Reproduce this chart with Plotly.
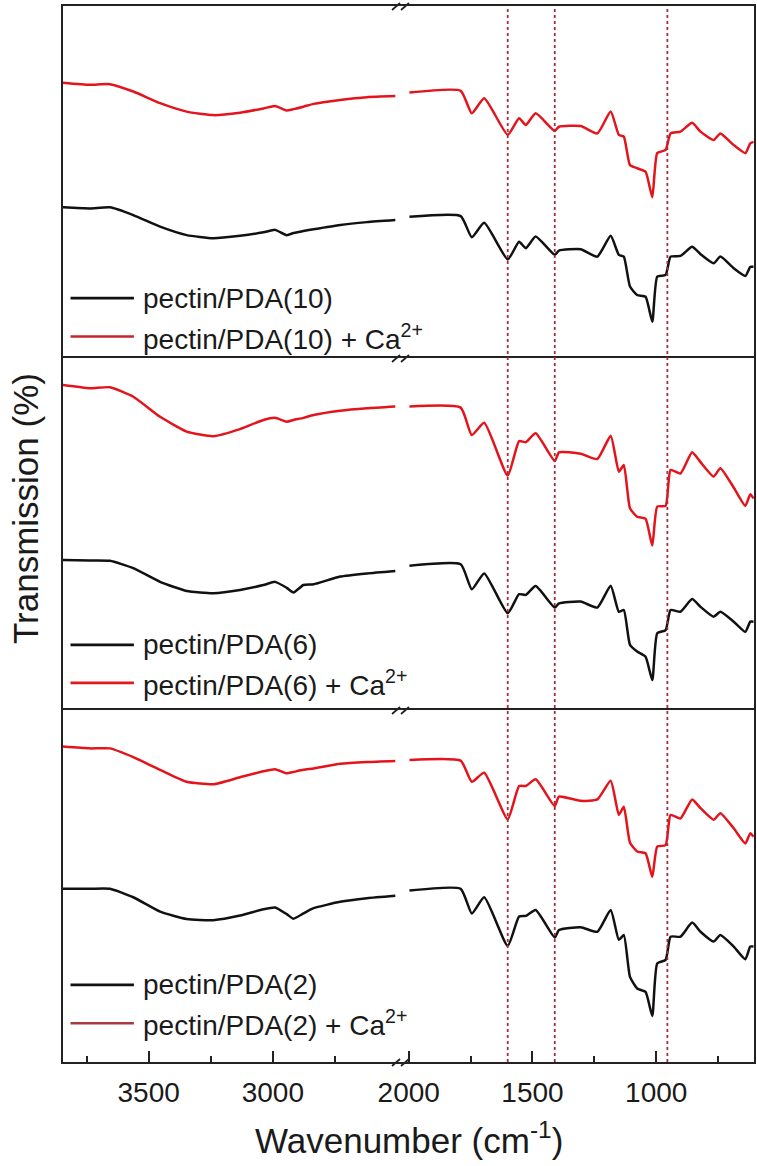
"""
FTIR spectra of pectin/PDA films with and without Ca2+, drawn on a broken wavenumber axis.
"""

import plotly.graph_objects as go
from plotly.subplots import make_subplots

# wavenumber grids (cm-1) for the two axis segments
WN_LEFT = [3845, 3737, 3656, 3562, 3454, 3347, 3240, 3132, 3038, 2991, 2944, 2917, 2877, 2836, 2729, 2621, 2507]
WN_RIGHT = [1997, 1790, 1745, 1695, 1600, 1554, 1527, 1487, 1410, 1393, 1305, 1238, 1184, 1151, 1131,
            1106, 1077, 1043, 1016, 996, 962, 942, 902, 855, 821, 768, 741, 687, 640, 620, 607]

# transmission (offset, arbitrary %) read per panel
PDA10_CA_LEFT = [78.2, 77.6, 77.8, 75.7, 72.4, 70.0, 69.0, 69.7, 70.9, 71.6, 70.3, 70.7, 71.4, 72.2, 73.3, 74.1, 74.4]
PDA10_CA_RIGHT = [75.4, 75.9, 69.5, 73.8, 63.4, 68.1, 66.2, 69.5, 64.5, 65.7, 65.9, 63.8, 70.0, 63.4, 62.9,
                  54.8, 53.9, 52.9, 45.7, 58.2, 59.1, 63.8, 64.3, 66.8, 64.3, 61.9, 63.8, 60.5, 58.2, 61.0, 61.4]
PDA10_LEFT = [42.8, 42.5, 42.8, 40.6, 37.3, 34.9, 34.0, 34.7, 35.7, 36.4, 34.9, 35.5, 36.1, 36.6, 37.8, 38.6, 39.2]
PDA10_RIGHT = [40.1, 40.3, 34.3, 38.4, 28.0, 33.0, 31.2, 34.5, 29.3, 30.5, 30.9, 28.8, 34.7, 29.3, 28.8,
               20.3, 17.9, 17.4, 10.3, 23.1, 23.6, 28.8, 29.0, 31.6, 29.5, 26.9, 28.8, 25.5, 23.3, 25.9, 25.9]

PDA6_CA_LEFT = [92.3, 91.4, 91.7, 89.0, 83.3, 79.1, 77.8, 79.8, 82.4, 83.0, 81.9, 82.4, 83.0, 83.8, 85.0, 85.7, 86.2]
PDA6_CA_RIGHT = [86.2, 85.9, 78.1, 81.6, 66.6, 76.4, 76.1, 78.6, 70.7, 73.2, 72.8, 71.3, 77.9, 67.7, 69.6,
                 57.3, 54.9, 54.3, 46.7, 57.8, 58.0, 68.2, 67.2, 73.2, 70.4, 66.3, 68.7, 63.2, 58.0, 61.3, 60.1]
PDA6_LEFT = [42.6, 42.5, 42.4, 40.3, 36.4, 33.8, 33.2, 34.1, 35.5, 36.4, 34.7, 33.4, 35.5, 35.7, 37.9, 38.8, 39.5]
PDA6_RIGHT = [41.0, 41.4, 34.3, 38.8, 27.5, 32.9, 32.7, 35.2, 29.1, 30.3, 30.8, 29.1, 35.3, 27.9, 28.4,
              18.5, 16.6, 15.1, 8.5, 21.8, 22.7, 28.4, 27.9, 31.5, 29.3, 26.5, 27.9, 25.1, 22.2, 25.1, 25.1]

PDA2_CA_LEFT = [89.6, 89.1, 89.1, 86.6, 83.0, 79.6, 78.9, 80.9, 82.6, 83.2, 82.0, 82.4, 83.0, 83.4, 84.7, 85.2, 85.5]
PDA2_CA_RIGHT = [85.8, 85.6, 79.6, 82.2, 69.0, 78.4, 78.4, 80.3, 72.7, 75.4, 74.2, 74.6, 79.9, 70.2, 72.5,
                 62.3, 59.8, 59.3, 52.6, 61.2, 61.6, 70.2, 69.2, 74.6, 72.1, 68.8, 70.7, 66.4, 62.1, 65.0, 64.0]
PDA2_LEFT = [49.2, 49.2, 49.2, 46.8, 42.7, 40.6, 40.3, 41.6, 43.4, 43.9, 42.0, 40.7, 42.2, 43.7, 45.5, 46.5, 47.2]
PDA2_RIGHT = [48.7, 49.2, 42.2, 46.8, 33.0, 41.3, 41.5, 43.2, 35.4, 37.5, 38.3, 37.0, 43.2, 34.7, 36.1,
              24.2, 20.9, 19.9, 13.1, 28.0, 29.0, 35.6, 35.6, 39.6, 37.0, 34.2, 36.1, 32.8, 29.2, 32.8, 32.8]

SAMPLE_NAMES = ["pectin/PDA(10)", "pectin/PDA(6)", "pectin/PDA(2)"]
BAND_POSITIONS = [1600, 1410, 955]

TICKS_LEFT = [3500, 3000]
MINOR_LEFT = [3750, 3250, 2750]
TICKS_RIGHT = [2000, 1500, 1000]
MINOR_RIGHT = [1750, 1250, 750]

RANGE_LEFT = [3845, 2472]
RANGE_RIGHT = [2019, 605]

FONT = "Arial, Liberation Sans, sans-serif"
TEXT = "#1a1a1a"
RED = "#e3141b"
BLACK = "#111111"
BAND_COLOR = "#a3303a"
LEGEND_RED = ["#c0282d", "#e31a1c", "#a83a3e"]

panels = [
    (PDA10_LEFT, PDA10_RIGHT, PDA10_CA_LEFT, PDA10_CA_RIGHT),
    (PDA6_LEFT, PDA6_RIGHT, PDA6_CA_LEFT, PDA6_CA_RIGHT),
    (PDA2_LEFT, PDA2_RIGHT, PDA2_CA_LEFT, PDA2_CA_RIGHT),
]
# legend rows (fraction of panel height) for each panel
legend_rows = [(0.170, 0.061), (0.185, 0.077), (0.219, 0.110)]

fig = make_subplots(
    rows=3, cols=2, column_widths=[341, 350],
    horizontal_spacing=0, vertical_spacing=0,
)

for row, (blk_l, blk_r, red_l, red_r) in enumerate(panels, start=1):
    for col, wn, blk, red in [(1, WN_LEFT, blk_l, red_l), (2, WN_RIGHT, blk_r, red_r)]:
        fig.add_trace(go.Scatter(x=wn, y=blk, mode="lines",
                                 line=dict(color=BLACK, width=2.5, shape="spline", smoothing=0.5),
                                 showlegend=False), row=row, col=col)
        fig.add_trace(go.Scatter(x=wn, y=red, mode="lines",
                                 line=dict(color=RED, width=2.5, shape="spline", smoothing=0.5),
                                 showlegend=False), row=row, col=col)

    # hand-drawn legend in the lower left of each panel
    yref = "y domain" if row == 1 else f"y{2 * row - 1} domain"
    xref = "x domain" if row == 1 else f"x{2 * row - 1} domain"
    y_black, y_red = legend_rows[row - 1]
    labels = [SAMPLE_NAMES[row - 1], SAMPLE_NAMES[row - 1] + " + Ca<sup>2+</sup>"]
    for y_pos, color, text in [(y_black, BLACK, labels[0]), (y_red, LEGEND_RED[row - 1], labels[1])]:
        fig.add_shape(type="line", xref=xref, yref=yref, x0=0.022, x1=0.208, y0=y_pos, y1=y_pos,
                      line=dict(color=color, width=2.6))
        fig.add_annotation(xref=xref, yref=yref, x=0.228, y=y_pos, text=text, showarrow=False,
                           xanchor="left", yanchor="middle", font=dict(size=28, color=TEXT, family=FONT))

# dotted band markers through all three panels
for wn in BAND_POSITIONS:
    fig.add_shape(type="line", xref="x6", yref="paper", x0=wn, x1=wn, y0=0, y1=1,
                  line=dict(color=BAND_COLOR, width=1.8, dash="dot"))

axis_style = dict(showline=True, linecolor="#222222", linewidth=2, showgrid=False, zeroline=False)
for row in range(1, 4):
    bottom = row == 3
    for col, rng, major, minor in [(1, RANGE_LEFT, TICKS_LEFT, MINOR_LEFT), (2, RANGE_RIGHT, TICKS_RIGHT, MINOR_RIGHT)]:
        fig.update_xaxes(
            range=rng, side="bottom" if bottom else "top", mirror=bottom, **axis_style,
            tickmode="array", tickvals=major,
            ticks="inside" if bottom else "", ticklen=11, tickwidth=1.6, tickcolor="#222222",
            showticklabels=bottom, ticklabelstandoff=4,
            tickfont=dict(size=28, color=TEXT, family=FONT),
            minor=dict(tickmode="array", tickvals=minor, ticks="inside" if bottom else "",
                       ticklen=6, tickwidth=1.6, tickcolor="#222222"),
            row=row, col=col,
        )
        fig.update_yaxes(range=[0, 100], mirror=False, side="left" if col == 1 else "right",
                         showticklabels=False, ticks="", **axis_style, row=row, col=col)

# axis-break marks on every horizontal border
for y_border in [0, 1 / 3, 2 / 3, 1]:
    for dx in (-12, -3):
        fig.add_shape(type="line", xref="paper", yref="paper", xsizemode="pixel", ysizemode="pixel",
                      xanchor=341 / 691, yanchor=y_border, x0=dx, x1=dx + 8, y0=-4, y1=3,
                      line=dict(color="#222222", width=1.8))

fig.add_annotation(xref="paper", yref="paper", x=0.5, y=-0.072, text="Wavenumber (cm<sup>-1</sup>)",
                   showarrow=False, xanchor="center", yanchor="middle",
                   font=dict(size=35, color=TEXT, family=FONT))
fig.add_annotation(xref="paper", yref="paper", x=-0.055, y=0.5246, text="Transmission (%)", textangle=-90,
                   showarrow=False, xanchor="center", yanchor="middle",
                   font=dict(size=35, color=TEXT, family=FONT))

fig.update_layout(
    width=757, height=1166,
    margin=dict(l=63, r=3, t=6, b=104),
    plot_bgcolor="white", paper_bgcolor="white",
    font=dict(family=FONT),
    showlegend=False,
)

# drop the browser's default body margin so the figure sits at the page origin
fig.write_html(
    "out.html",
    config={"displayModeBar": False},
    post_script=(
        "document.body.style.margin='0';document.body.style.overflow='hidden';"
        "Plotly.relayout(document.getElementById('{plot_id}'), {width: 757, height: 1166});"
    ),
)
